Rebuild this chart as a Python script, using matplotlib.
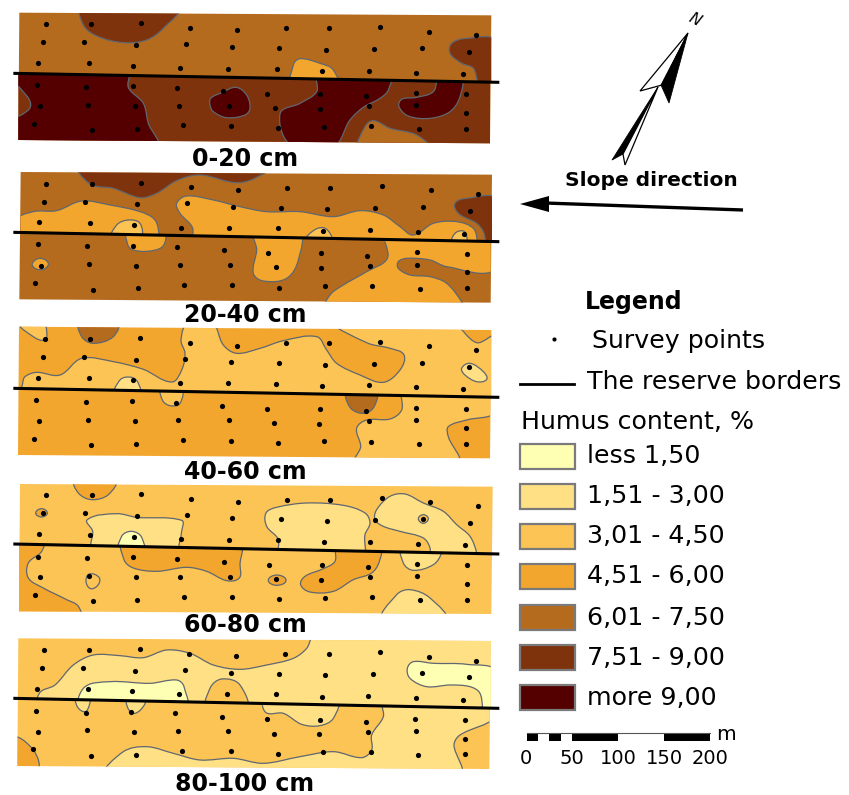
import numpy as np
import matplotlib
matplotlib.use('Agg')
import matplotlib.pyplot as plt
from matplotlib.path import Path
from matplotlib.patches import PathPatch, Polygon, Rectangle

plt.rcParams['font.family'] = ['DejaVu Sans']

# humus classes
class_labels = ['less 1,50', '1,51 - 3,00', '3,01 - 4,50', '4,51 - 6,00',
                '6,01 - 7,50', '7,51 - 9,00', 'more 9,00']
class_colors = ['#FFFFB3', '#FFE085', '#FCC355', '#F2A62E', '#B56B1E', '#7F330D', '#540000']

depths = ['0-20 cm', '20-40 cm', '40-60 cm', '60-80 cm', '80-100 cm']
depth_label_y = [159, 315, 472, 625, 784]

# all map coordinates below are map units (3 units = 1 px)
panel_top = [0, 160, 320, 478, 635]
panel_corners = [
    [(58, 38), (1474, 46), (1470, 430), (55, 420)],
    [(62, 36), (1476, 44), (1472, 428), (58, 418)],
    [(57, 20), (1474, 30), (1470, 415), (54, 405)],
    [(60, 18), (1478, 26), (1474, 408), (57, 400)],
    [(55, 10), (1472, 18), (1468, 402), (52, 393)],
]
panel_base = [4, 4, 3, 2, 2]
border_lines = [
    [(40, 220), (1498, 247)],
    [(40, 217), (1498, 245)],
    [(40, 205), (1498, 232)],
    [(40, 198), (1498, 228)],
    [(40, 190), (1498, 220)],
]

points_0_20 = [
    (137, 73), (272, 73), (422, 70), (571, 85), (711, 91), (858, 85), (988, 85), (1141, 81), (1286, 95), (1429, 105),
    (129, 127), (253, 127), (408, 136), (558, 133), (696, 142), (838, 145), (977, 150), (1122, 147), (1265, 143), (1408, 155),
    (114, 189), (267, 190), (398, 197), (539, 205), (683, 206), (830, 206), (967, 214), (1107, 212), (1249, 218), (1389, 223),
    (110, 255), (259, 261), (398, 259), (530, 263), (668, 273), (802, 281), (960, 282), (1098, 289), (1248, 279), (1398, 283),
    (119, 319), (265, 315), (405, 319), (537, 318), (687, 318), (824, 324), (959, 327), (1106, 319), (1248, 316), (1398, 339),
    (101, 371), (276, 391), (410, 386), (549, 376), (694, 377), (835, 385), (972, 380), (1113, 379), (1256, 388), (1397, 386),
]
points_20_40 = [
    (138, 71), (276, 71), (424, 68), (573, 82), (713, 89), (861, 83), (991, 83), (1145, 78), (1292, 91), (1434, 103),
    (131, 125), (255, 125), (410, 133), (560, 129), (698, 140), (842, 143), (981, 148), (1126, 145), (1269, 141), (1411, 153),
    (117, 187), (270, 188), (401, 195), (542, 203), (687, 204), (833, 204), (970, 212), (1110, 210), (1254, 216), (1392, 221),
    (113, 253), (262, 259), (400, 257), (532, 261), (671, 271), (805, 279), (963, 280), (1101, 287), (1251, 277), (1401, 281),
    (122, 317), (267, 312), (408, 317), (540, 316), (690, 316), (828, 322), (963, 325), (1109, 317), (1251, 314), (1401, 337),
    (105, 369), (278, 389), (413, 384), (551, 374), (697, 375), (838, 383), (975, 378), (1117, 377), (1260, 386), (1400, 384),
]
points_40_60 = [
    (135, 57), (270, 57), (421, 54), (570, 69), (710, 77), (858, 69), (988, 69), (1141, 67), (1286, 78), (1429, 91),
    (128, 110), (252, 112), (407, 120), (556, 116), (694, 126), (838, 130), (976, 134), (1122, 132), (1265, 128), (1408, 141),
    (114, 173), (267, 175), (399, 181), (539, 190), (683, 190), (828, 191), (967, 199), (1107, 196), (1249, 202), (1389, 207),
    (109, 241), (259, 247), (396, 243), (529, 248), (666, 257), (800, 266), (960, 268), (1098, 274), (1248, 265), (1398, 268),
    (117, 304), (264, 300), (405, 304), (535, 301), (687, 301), (823, 309), (958, 311), (1107, 304), (1248, 299), (1398, 324),
    (101, 356), (274, 375), (409, 372), (548, 361), (692, 363), (833, 370), (971, 364), (1114, 365), (1256, 373), (1397, 372),
]
points_60_80 = [
    (139, 52), (275, 52), (424, 49), (574, 63), (713, 71), (861, 65), (991, 65), (1147, 60), (1291, 72), (1434, 84),
    (130, 106), (255, 106), (410, 115), (560, 112), (697, 121), (842, 124), (981, 128), (1125, 125), (1270, 122), (1411, 134),
    (117, 168), (270, 170), (402, 176), (542, 184), (687, 185), (833, 185), (972, 193), (1110, 191), (1255, 197), (1394, 202),
    (113, 236), (262, 240), (399, 238), (532, 243), (671, 252), (806, 260), (965, 262), (1103, 267), (1251, 258), (1401, 262),
    (121, 298), (267, 294), (408, 298), (540, 296), (690, 296), (828, 303), (963, 306), (1110, 298), (1251, 295), (1401, 318),
    (105, 350), (278, 370), (412, 366), (551, 356), (697, 356), (838, 364), (976, 359), (1117, 358), (1260, 367), (1400, 365),
]
points_80_100 = [
    (133, 45), (268, 45), (419, 42), (568, 56), (708, 63), (856, 57), (986, 57), (1141, 52), (1286, 65), (1429, 77),
    (126, 98), (250, 98), (405, 107), (554, 105), (692, 113), (836, 116), (975, 121), (1120, 118), (1265, 115), (1406, 127),
    (112, 161), (265, 162), (396, 168), (537, 176), (682, 178), (828, 178), (967, 185), (1105, 184), (1249, 190), (1389, 195),
    (108, 227), (257, 233), (394, 231), (526, 235), (666, 245), (800, 252), (960, 254), (1098, 260), (1246, 251), (1396, 254),
    (115, 291), (262, 286), (403, 291), (535, 289), (685, 289), (823, 296), (958, 298), (1105, 291), (1248, 287), (1396, 311),
    (100, 343), (272, 362), (408, 359), (546, 348), (692, 348), (833, 356), (970, 351), (1112, 350), (1255, 359), (1396, 358),
]
all_points = [points_0_20, points_20_40, points_40_60, points_60_80, points_80_100]

# (class index, side of the reserve border it is cut to, outline)
regions_0_20 = [
    (5, 'all', [(245, 20), (250, 75), (290, 108), (370, 128), (440, 120), (490, 85), (535, 20)]),
    (5, 'high', [(1490, 125), (1400, 115), (1355, 130), (1350, 160), (1385, 190), (1420, 205), (1437, 250), (1490, 280)]),
    (3, 'high', [(878, 270), (880, 195), (900, 176), (960, 190), (1000, 210), (1012, 270)]),
    (5, 'low', [(30, 200), (1490, 200), (1490, 450), (30, 450)]),
    (6, 'low', [(30, 200), (385, 200), (385, 262), (430, 310), (445, 370), (470, 440), (30, 440), (30, 350), (58, 348), (92, 315), (58, 262), (30, 240)]),
    (6, 'low', [(632, 295), (665, 278), (708, 262), (740, 285), (750, 325), (735, 345), (680, 353), (640, 335), (630, 315)]),
    (6, 'low', [(955, 220), (950, 275), (900, 310), (840, 342), (878, 440), (1000, 440), (1050, 360), (1090, 322), (1140, 295), (1165, 270), (1168, 220)]),
    (6, 'low', [(1320, 225), (1300, 275), (1250, 292), (1205, 298), (1197, 320), (1225, 348), (1290, 355), (1350, 335), (1380, 290), (1382, 225)]),
    (4, 'all', [(1080, 445), (1095, 380), (1120, 362), (1170, 385), (1250, 405), (1285, 445)]),
]
regions_20_40 = [
    (5, 'all', [(235, 15), (270, 72), (340, 85), (420, 113), (470, 100), (530, 62), (600, 45), (720, 68), (810, 30), (810, 15)]),
    (5, 'high', [(1495, 120), (1400, 115), (1365, 130), (1375, 160), (1430, 190), (1450, 215), (1465, 260), (1495, 260)]),
    (3, 'high', [(40, 185), (100, 155), (170, 152), (245, 123), (330, 135), (420, 155), (465, 180), (478, 230), (478, 260), (40, 260)]),
    (3, 'low', [(382, 200), (382, 250), (395, 268), (440, 274), (485, 262), (498, 232), (490, 200)]),
    (2, 'high', [(335, 240), (350, 195), (385, 180), (420, 190), (425, 240), (400, 260)]),
    (3, 'high', [(578, 280), (578, 205), (540, 160), (530, 130), (560, 108), (640, 120), (720, 140), (800, 155), (900, 155),
                 (1000, 170), (1080, 152), (1150, 165), (1200, 200), (1240, 225), (1300, 190), (1370, 185), (1420, 205), (1432, 245), (1432, 290)]),
    (2, 'high', [(915, 245), (940, 212), (970, 203), (990, 220), (995, 245), (950, 265)]),
    (2, 'high', [(1355, 250), (1365, 220), (1390, 213), (1400, 230), (1400, 250), (1380, 265)]),
    (3, 'low', [(765, 210), (770, 270), (760, 340), (790, 363), (860, 355), (895, 300), (895, 210)]),
    (3, 'low', [(1160, 215), (1162, 295), (1100, 335), (1030, 375), (990, 405), (975, 450), (1395, 450), (1385, 425), (1340, 370), (1290, 350), (1230, 345),
                (1195, 325), (1195, 305), (1220, 295), (1290, 300), (1340, 320), (1490, 328), (1490, 215)]),
    (3, 'all', [(97, 310), (120, 295), (145, 310), (130, 328), (105, 325)]),
]
regions_40_60 = [
    (2, 'high', [(65, 240), (68, 190), (75, 170), (110, 157), (180, 165), (245, 115), (340, 125), (430, 148), (515, 186), (545, 150), (555, 100), (543, 60),
                 (565, 5), (635, 5), (670, 75), (710, 100), (780, 85), (850, 62), (950, 50), (980, 90), (1010, 130), (1080, 165), (1150, 187), (1200, 150),
                 (1212, 105), (1170, 85), (1100, 68), (1015, 10), (1355, 10), (1430, 68), (1490, 50), (1490, 240)]),
    (2, 'low', [(1212, 200), (1205, 270), (1170, 297), (1100, 300), (1070, 325), (1082, 380), (1065, 430), (1372, 430), (1345, 350), (1345, 320), (1400, 300), (1490, 275), (1490, 200)]),
    (4, 'all', [(240, 5), (245, 50), (280, 70), (340, 50), (352, 5)]),
    (2, 'all', [(60, 5), (100, 50), (135, 60), (140, 35), (130, 5)]),
    (1, 'high', [(345, 235), (360, 180), (395, 172), (415, 190), (420, 235)]),
    (1, 'all', [(1385, 145), (1410, 130), (1450, 155), (1460, 178), (1430, 185), (1395, 165)]),
    (2, 'low', [(485, 200), (487, 240), (510, 257), (540, 250), (543, 200)]),
    (4, 'low', [(1043, 205), (1050, 262), (1095, 280), (1125, 255), (1127, 205)]),
]
regions_60_80 = [
    (3, 'all', [(225, 5), (235, 45), (275, 65), (325, 50), (345, 5)]),
    (3, 'all', [(107, 105), (125, 92), (142, 105), (125, 117)]),
    (1, 'high', [(262, 125), (350, 107), (410, 118), (545, 127), (545, 160), (535, 215), (535, 250), (272, 250), (272, 200), (278, 160)]),
    (0, 'high', [(358, 235), (365, 175), (395, 160), (425, 178), (428, 235)]),
    (3, 'low', [(130, 180), (125, 220), (85, 255), (85, 300), (130, 330), (200, 365), (235, 385), (242, 430), (30, 430), (30, 180)]),
    (3, 'low', [(370, 180), (372, 245), (400, 270), (470, 280), (560, 268), (620, 280), (680, 308), (718, 300), (720, 260), (718, 180)]),
    (2, 'all', [(258, 310), (268, 288), (297, 298), (295, 320), (272, 332)]),
    (3, 'all', [(805, 307), (830, 291), (858, 307), (830, 322)]),
    (3, 'low', [(1012, 195), (1005, 250), (970, 272), (915, 295), (902, 320), (930, 342), (1000, 340), (1060, 305), (1115, 285), (1138, 250), (1140, 195)]),
    (1, 'high', [(838, 260), (835, 185), (800, 145), (798, 105), (830, 88), (920, 75), (1030, 82), (1095, 105), (1110, 135), (1095, 170), (1083, 260)]),
    (1, 'high', [(1125, 125), (1130, 95), (1170, 55), (1215, 48), (1270, 75), (1330, 100), (1370, 140), (1410, 175), (1430, 225), (1432, 265),
                 (1295, 265), (1290, 210), (1270, 180), (1200, 160), (1150, 145)]),
    (1, 'low', [(1208, 195), (1210, 255), (1240, 277), (1300, 260), (1325, 225), (1325, 195)]),
    (2, 'all', [(1255, 122), (1270, 110), (1285, 122), (1270, 136)]),
    (1, 'all', [(1150, 430), (1190, 350), (1230, 335), (1290, 360), (1335, 430)]),
]
regions_80_100 = [
    (1, 'high', [(115, 240), (118, 175), (165, 150), (220, 90), (280, 60), (360, 62), (430, 68), (500, 45), (570, 55), (640, 90), (720, 103), (800, 90),
                 (880, 70), (920, 40), (950, -10), (1490, -10), (1490, 250)]),
    (0, 'high', [(245, 235), (250, 160), (330, 140), (450, 145), (530, 135), (552, 155), (555, 235)]),
    (2, 'high', [(622, 235), (630, 160), (665, 132), (720, 150), (737, 235)]),
    (0, 'high', [(1495, 112), (1400, 88), (1300, 85), (1240, 80), (1222, 100), (1230, 130), (1280, 155), (1350, 150), (1410, 155), (1440, 175), (1457, 250), (1495, 250)]),
    (1, 'low', [(1150, 190), (1150, 245), (1115, 300), (1115, 345), (1085, 368), (1000, 350), (900, 365), (790, 385), (700, 370), (600, 375), (520, 355), (440, 335),
                (370, 350), (320, 415), (1378, 415), (1362, 330), (1380, 300), (1490, 245), (1490, 190)]),
    (1, 'low', [(795, 190), (797, 232), (850, 235), (905, 268), (960, 272), (1000, 250), (1010, 190)]),
    (1, 'low', [(230, 185), (232, 215), (255, 230), (268, 210), (268, 185)]),
    (1, 'low', [(383, 190), (385, 222), (405, 235), (433, 210), (433, 190)]),
    (3, 'all', [(30, 310), (100, 345), (110, 415), (30, 415)]),
]
all_regions = [regions_0_20, regions_20_40, regions_40_60, regions_60_80, regions_80_100]

# scale bar
scale_ticks = [0, 50, 100, 150, 200]
scale_edges = [527, 538, 549, 561, 572, 618, 664, 710]

swatch_tops = [444, 484, 524, 564, 605, 645, 685]


def smooth_path(pts):
    # closed curve through the outline points, handles limited by segment length
    p = np.array(pts, dtype=float)
    n = len(p)
    tang = []
    for i in range(n):
        d = p[(i + 1) % n] - p[i - 1]
        tang.append(d / np.hypot(*d))
    verts = [p[0]]
    codes = [Path.MOVETO]
    for i in range(n):
        j = (i + 1) % n
        seg = np.hypot(*(p[j] - p[i]))
        verts += [p[i] + tang[i] * seg / 3, p[j] - tang[j] * seg / 3, p[j]]
        codes += [Path.CURVE4] * 3
    return Path(verts, codes)


fig = plt.figure(figsize=(8.49, 7.95), dpi=100)
ax = fig.add_axes([0, 0, 1, 1])
ax.set_xlim(0, 849)
ax.set_ylim(795, 0)
ax.axis('off')

for i, depth in enumerate(depths):
    y0 = panel_top[i]

    def to_px(pts):
        return [(x / 3, y0 + y / 3) for x, y in pts]

    corners = panel_corners[i]
    (lx0, ly0), (lx1, ly1) = border_lines[i]
    line_y = lambda x: ly0 + (ly1 - ly0) * (x - lx0) / (lx1 - lx0)

    whole = Polygon(to_px(corners), closed=True, facecolor=class_colors[panel_base[i]], edgecolor='none', zorder=1)
    ax.add_patch(whole)
    high = Polygon(to_px([corners[0], corners[1], (corners[1][0], line_y(corners[1][0])), (corners[0][0], line_y(corners[0][0]))]),
                   closed=True, transform=ax.transData)
    low = Polygon(to_px([(corners[3][0], line_y(corners[3][0])), (corners[2][0], line_y(corners[2][0])), corners[2], corners[3]]),
                  closed=True, transform=ax.transData)

    for cls, side, outline in all_regions[i]:
        patch = PathPatch(smooth_path(to_px(outline)), facecolor=class_colors[cls],
                          edgecolor='#5F6770', linewidth=0.9, zorder=2)
        ax.add_patch(patch)
        patch.set_clip_path({'all': whole, 'high': high, 'low': low}[side])

    pts = np.array(to_px(all_points[i]))
    ax.scatter(pts[:, 0], pts[:, 1], s=14, color='black', linewidths=0, zorder=4)

    line = np.array(to_px(border_lines[i]))
    ax.plot(line[:, 0], line[:, 1], color='black', linewidth=2.2, zorder=5, solid_capstyle='butt')

    ax.text(245, depth_label_y[i], depth, fontsize=17, fontweight='bold', ha='center', va='center', zorder=6)

# north arrow
ax.add_patch(Polygon([(688, 33), (640, 91), (662, 85)], closed=True, fc='white', ec='black', lw=0.9))
ax.add_patch(Polygon([(688, 33), (661, 85), (669, 103)], closed=True, fc='black', ec='black', lw=0.6))
ax.add_patch(Polygon([(658, 87), (612, 160), (623, 154)], closed=True, fc='black', ec='black', lw=0.6))
ax.add_patch(Polygon([(658, 87), (623, 154), (625, 165)], closed=True, fc='white', ec='black', lw=0.9))
ax.text(695, 20, 'N', fontsize=11, rotation=-28, ha='center', va='center', style='italic')

# slope arrow
ax.text(651, 181, 'Slope direction', fontsize=14.5, fontweight='bold', ha='center', va='center')
ax.plot([743, 545], [210, 203], color='black', linewidth=2.4, solid_capstyle='butt')
ax.add_patch(Polygon([(520, 204), (549, 196), (549, 212)], closed=True, fc='black', ec='none'))

# legend
ax.text(634, 302, 'Legend', fontsize=17, fontweight='bold', ha='center', va='center')
ax.scatter([554], [339], s=9, color='black', linewidths=0)
ax.text(592, 341, 'Survey points', fontsize=18.2, ha='left', va='center')
ax.plot([520, 574], [384, 384], color='black', linewidth=2)
ax.text(587, 382, 'The reserve borders', fontsize=18.2, ha='left', va='center')
ax.text(521, 422, 'Humus content, %', fontsize=18.2, ha='left', va='center')

for label, color, top in zip(class_labels, class_colors, swatch_tops):
    ax.add_patch(Rectangle((520, top), 55, 25, facecolor=color, edgecolor='#7A7A7A', linewidth=1.6))
    ax.text(587, top + 12.5, label, fontsize=18.2, ha='left', va='center')

# scale bar
for k in range(len(scale_edges) - 1):
    ax.add_patch(Rectangle((scale_edges[k], 733), scale_edges[k + 1] - scale_edges[k], 8,
                           facecolor='black' if k % 2 == 0 else 'white', edgecolor='none'))
ax.plot([527, 710], [733, 733], color='#555555', linewidth=0.8)
for t, x in zip(scale_ticks, [526, 572, 618, 664, 710]):
    ax.text(x, 758, str(t), fontsize=14, ha='center', va='center')
ax.text(726, 734, 'm', fontsize=14.5, ha='center', va='center')

fig.savefig('out.png', dpi=100)
